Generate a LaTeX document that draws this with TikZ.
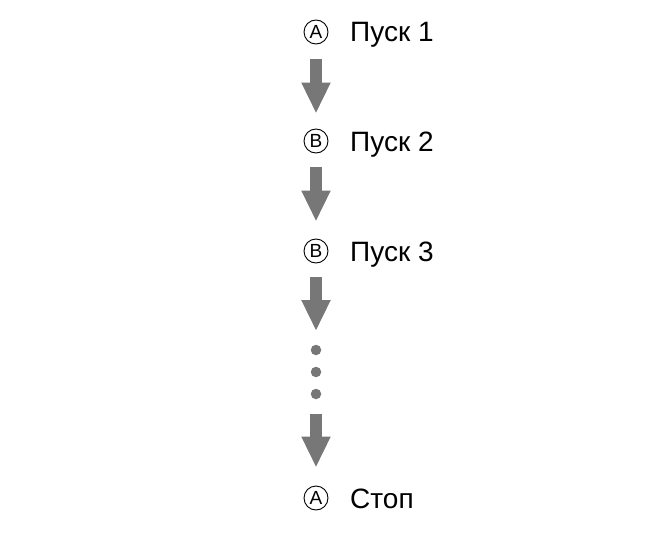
\documentclass[tikz,border=0pt]{standalone}
\usepackage{fontspec}
\setmainfont{Liberation Sans}
\usetikzlibrary{arrows.meta}
\definecolor{arrowgray}{HTML}{777777}
\begin{document}
\begin{tikzpicture}[x=1pt,y=-1pt,
  circlab/.style={circle,draw=black,line width=0.9pt,minimum size=24pt,inner sep=0pt,font=\fontsize{19}{19}\selectfont},
  steplab/.style={anchor=base west,inner sep=0pt,font=\fontsize{28}{28}\selectfont},
  bigarrow/.style={draw=arrowgray,line width=12pt,-{Triangle[width=27pt,length=31pt]}},
  dotnode/.style={circle,fill=arrowgray,minimum size=10.5pt,inner sep=0pt}]
\useasboundingbox (0,0) rectangle (667,535);
\node[circlab] (c1) at (316,32) {A};
\node[steplab] (t1) at (350,42) {Пуск 1};
\node[circlab] (c2) at (316,141) {B};
\node[steplab] (t2) at (350,151) {Пуск 2};
\node[circlab] (c3) at (316,251) {B};
\node[steplab] (t3) at (350,261) {Пуск 3};
\node[dotnode] (d1) at (316,350) {};
\node[dotnode] (d2) at (316,372) {};
\node[dotnode] (d3) at (316,394) {};
\node[circlab] (c4) at (316,498) {A};
\node[steplab] (t4) at (350,508) {Стоп};
\draw[bigarrow,shorten <=15pt,shorten >=15pt] (c1.south) -- (c2.north);
\draw[bigarrow,shorten <=14pt,shorten >=17pt] (c2.south) -- (c3.north);
\draw[bigarrow,shorten <=14pt,shorten >=13.5pt] (c3.south) -- (d1.north);
\draw[bigarrow,shorten <=14.5pt,shorten >=18pt] (d3.south) -- (c4.north);
\end{tikzpicture}
\end{document}
